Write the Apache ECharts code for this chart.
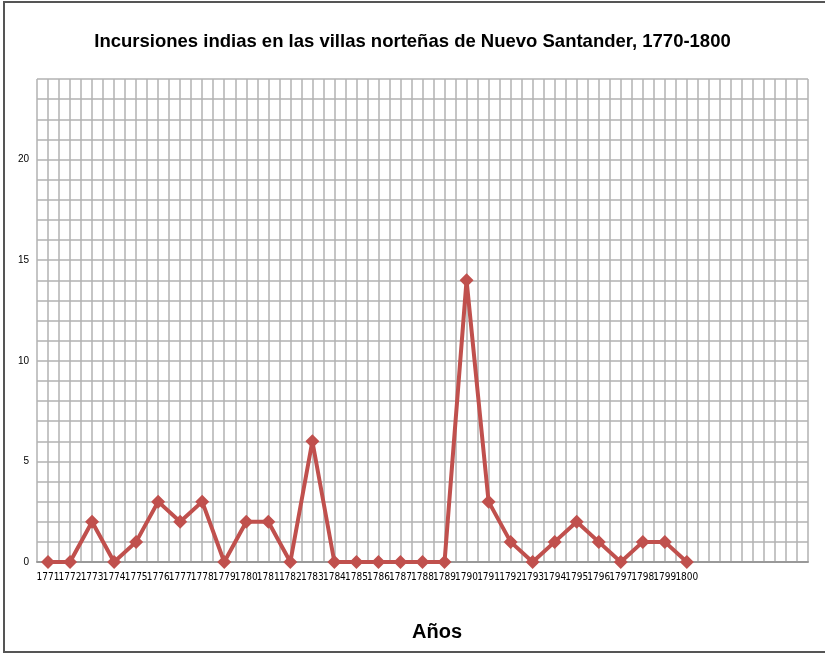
<!DOCTYPE html>
<html>
<head>
<meta charset="utf-8">
<script src="https://cdn.jsdelivr.net/npm/echarts@6/dist/echarts.min.js"></script>
<style>
html,body{margin:0;padding:0;background:#fff;}
#chart{width:825px;height:655px;}
</style>
</head>
<body>
<div id="chart"></div>
<script>
const years = ['1771','1772','1773','1774','1775','1776','1777','1778','1779','1780','1781','1782','1783','1784','1785','1786','1787','1788','1789','1790','1791','1792','1793','1794','1795','1796','1797','1798','1799','1800'];
const emptyCategories = ['', '', '', '', ''];
const incursions = [0,0,2,0,1,3,2,3,0,2,2,0,6,0,0,0,0,0,0,14,3,1,0,1,2,1,0,1,1,0];
const yLabels = [0,5,10,15,20];
const titleText = 'Incursiones indias en las villas norteñas de Nuevo Santander, 1770-1800';
const xAxisTitle = 'Años';

const categories = years.concat(emptyCategories);
const gridColor = '#B2B2B2';
const cond = '"DejaVu Sans Condensed", "Liberation Sans", Arial, sans-serif';
const sans = '"Liberation Sans", Arial, sans-serif';

const chart = echarts.init(document.getElementById('chart'));
chart.setOption({
  animation: false,
  backgroundColor: '#fff',
  title: {
    text: titleText,
    left: 'center',
    top: 27,
    textStyle: {fontFamily: sans, fontWeight: 'bold', fontSize: 18.5, color: '#000'}
  },
  graphic: [
    {type: 'rect', shape: {x: 4, y: 2, width: 830, height: 650}, style: {fill: 'none', stroke: '#555', lineWidth: 2}, silent: true, z: -1},
    {type: 'text', left: 412, top: 622, style: {text: xAxisTitle, font: 'bold 20px ' + sans, fill: '#000'}}
  ],
  grid: {left: 37, top: 79, right: 17, bottom: 93, containLabel: false},
  xAxis: [
    {
      type: 'category',
      data: categories,
      boundaryGap: true,
      axisLine: {show: true, lineStyle: {color: '#999', width: 2}},
      axisTick: {show: false},
      axisLabel: {interval: 0, margin: 10, fontFamily: cond, fontSize: 10, color: '#000'},
      splitLine: {show: false}
    },
    {
      type: 'value',
      min: 0, max: 70, interval: 1,
      position: 'bottom',
      axisLine: {show: false},
      axisTick: {show: false},
      axisLabel: {show: false},
      splitLine: {show: true, lineStyle: {color: gridColor, width: 1.5}}
    }
  ],
  yAxis: {
    type: 'value',
    min: 0, max: 24, interval: 1,
    axisLine: {show: false},
    axisTick: {show: false},
    axisLabel: {
      margin: 8,
      fontFamily: sans, fontSize: 10, color: '#000',
      formatter: function (v) { return yLabels.indexOf(v) >= 0 ? String(v) : ''; }
    },
    splitLine: {show: true, lineStyle: {color: gridColor, width: 1.5}}
  },
  series: [{
    type: 'line',
    xAxisIndex: 0,
    data: incursions,
    symbol: 'diamond',
    symbolSize: 14,
    lineStyle: {color: '#C0504D', width: 4},
    itemStyle: {color: '#C0504D'},
    z: 5
  }]
});
</script>
</body>
</html>
